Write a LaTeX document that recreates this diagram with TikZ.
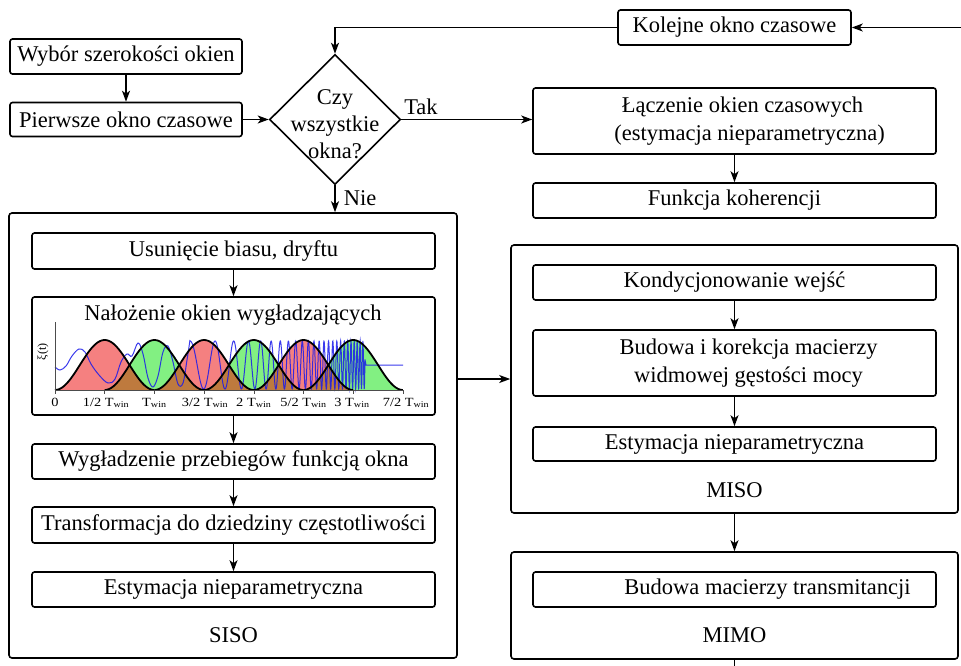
\documentclass[tikz,border=0pt]{standalone}
\usepackage{fontspec}
\setmainfont{Liberation Serif}
\newfontfamily\tickfont[FakeStretch=1.15]{Liberation Serif}
\usetikzlibrary{shapes.geometric,arrows.meta}
\definecolor{winred}{RGB}{245,128,128}
\definecolor{wingreen}{RGB}{130,240,130}
\definecolor{winbrown}{RGB}{190,122,62}
\definecolor{sigblue}{RGB}{25,25,235}
\tikzset{
  blk/.style={draw, line width=1.6pt, rounded corners=2.5pt, inner sep=0pt, align=center},
  grp/.style={draw, line width=1.6pt, rounded corners=3pt, inner sep=0pt},
  arr/.style={line width=1.5pt, -{Stealth[length=11pt,width=8pt,inset=3pt]}},
  lin/.style={line width=1.5pt},
  lbl/.style={inner sep=0pt},
  winline/.style={line width=1.8pt, black},
  sig/.style={line width=1pt, sigblue, opacity=0.85},
  ticklbl/.style={inner sep=0pt, anchor=base, font=\tickfont\fontsize{12.5}{12.5}\selectfont},
}
\begin{document}
\begin{tikzpicture}[x=1pt, y=-1pt, font=\fontsize{22.5}{28}\selectfont]
\useasboundingbox (0,0) rectangle (961,666);
\fill[white] (0,0) rectangle (961,666);

% top part
\node[blk, minimum width=233pt, minimum height=35pt] (kol) at (734.5,27.5) {Kolejne okno czasowe};
\node[blk, minimum width=232pt, minimum height=35pt] (wyb) at (126,56.5) {Wybór szerokości okien};
\node[blk, minimum width=232pt, minimum height=34pt] (pie) at (126,119.5) {Pierwsze okno czasowe};
\node[draw, diamond, line width=1.6pt, minimum width=131pt, minimum height=130pt, inner sep=0pt] (dec) at (335,119.5) {};
\node[lbl, align=center, font=\fontsize{22.5}{27}\selectfont] (dect) at (335,124) {Czy\\wszystkie\\okna?};
\node[blk, minimum width=403pt, minimum height=66pt] (lacz) at (734.5,121) {\hspace*{16pt}Łączenie okien czasowych\\\hspace*{30pt}(estymacja nieparametryczna)};
\node[blk, minimum width=403pt, minimum height=35pt] (fun) at (734.5,200.5) {Funkcja koherencji};
\node[lbl] (tak) at (421,107) {Tak};
\node[lbl] (nie) at (360,198) {Nie};

% SISO group
\node[grp, minimum width=448pt, minimum height=445pt] (siso) at (233,435.5) {};
\node[blk, minimum width=403pt, minimum height=36pt] (usu) at (233.5,251) {Usunięcie biasu, dryftu};
\node[blk, minimum width=403pt, minimum height=118pt] (nal) at (233.5,356) {};
\node[blk, minimum width=403pt, minimum height=35pt] (wyg) at (233.5,461.5) {Wygładzenie przebiegów funkcją okna};
\node[blk, minimum width=403pt, minimum height=36pt] (tra) at (233.5,525) {Transformacja do dziedziny częstotliwości};
\node[blk, minimum width=403pt, minimum height=35pt] (est1) at (233.5,589.5) {Estymacja nieparametryczna};
\node[lbl] (sisol) at (233.5,635) {SISO};

% MISO group
\node[grp, minimum width=447pt, minimum height=268pt] (miso) at (734.5,379) {};
\node[blk, minimum width=403pt, minimum height=35pt] (kon) at (734.5,282.5) {Kondycjonowanie wejść};
\node[blk, minimum width=403pt, minimum height=66pt] (bud) at (734.5,363) {\hspace*{28pt}Budowa i korekcja macierzy\\\hspace*{28pt}widmowej gęstości mocy};
\node[blk, minimum width=403pt, minimum height=34pt] (est2) at (734.5,444) {Estymacja nieparametryczna};
\node[lbl] (misol) at (734.5,490) {MISO};

% MIMO group
\node[grp, minimum width=447pt, minimum height=107pt] (mimo) at (734.5,605.5) {};
\node[blk, minimum width=403pt, minimum height=35pt] (tran) at (734.5,589.5) {\hspace*{66pt}Budowa macierzy transmitancji};
\node[lbl] (mimol) at (734.5,635) {MIMO};

\coordinate (rin) at (961,27.5);
\coordinate (mout) at (734.5,666);

% connectors
\draw[arr] (rin) -- (kol.east);
\draw[arr] (kol.west) -| (dec.north);
\draw[arr] (wyb.south) -- (pie.north);
\draw[arr] (pie.east) -- (dec.west);
\draw[arr] (dec.east) -- (dec.east -| lacz.west);
\draw[arr] (lacz.south) -- (fun.north);
\draw[arr] (dec.south) -- (dec.south |- siso.north);
\draw[arr] (usu.south) -- (nal.north);
\draw[arr] (nal.south) -- (wyg.north);
\draw[arr] (wyg.south) -- (tra.north);
\draw[arr] (tra.south) -- (est1.north);
\draw[arr] (siso.east |- miso.west) -- (miso.west);
\draw[arr] (kon.south) -- (bud.north);
\draw[arr] (bud.south) -- (est2.north);
\draw[arr] (miso.south) -- (mimo.north);
\draw[lin] (mimo.south) -- (mout);

% window plot
\node[lbl] (naltitle) at (233,315) {Nałożenie okien wygładzających};
\foreach \k/\wc in {0/winred,1/wingreen,2/winred,3/wingreen,4/winred,5/wingreen}{
  \pgfmathsetmacro\wa{55+49.7*\k}
  \pgfmathsetmacro\wb{\wa+99.4}
  \fill[\wc] plot[domain=\wa:\wb, samples=60] (\x,{390-50*sin((\x-\wa)*1.810865)*sin((\x-\wa)*1.810865)}) -- cycle;
}
\foreach \k in {0,...,4}{
  \pgfmathsetmacro\wa{55+49.7*\k}
  \pgfmathsetmacro\wb{\wa+49.7}
  \pgfmathsetmacro\wm{\wb+24.85}
  \pgfmathsetmacro\we{\wb+49.7}
  \fill[winbrown] (\wb,390) -- plot[domain=\wb:\wm, samples=25] (\x,{390-50*sin((\x-\wb)*1.810865)*sin((\x-\wb)*1.810865)}) -- plot[domain=\wm:\we, samples=25] (\x,{390-50*sin((\x-\wa)*1.810865)*sin((\x-\wa)*1.810865)}) -- cycle;
}
% signal
\draw[sig] plot[smooth, tension=0.6] coordinates {(55,367) (60,370) (66,366) (72,356) (79,349) (85,352) (91,364) (99,375) (108,383) (115,379) (121,362) (127,354) (132,356) (138,343) (143,354) (148,378) (153,387) (158,376) (163,352) (168,346) (173,362) (178,384) (183,383) (187,360) (190,340)};
\draw[sig] plot[domain=190:365, samples=900] (\x,{365-24*cos(865.6*(pow(2,(\x-190)/50)-1))}) -- (366,365) -- (403,365);
% window outlines
\foreach \k in {0,...,5}{
  \pgfmathsetmacro\wa{55+49.7*\k}
  \pgfmathsetmacro\wb{\wa+99.4}
  \draw[winline] plot[domain=\wa:\wb, samples=60] (\x,{390-50*sin((\x-\wa)*1.810865)*sin((\x-\wa)*1.810865)});
}
% axes
\draw[line width=0.6pt, black!70] (55,322) -- (55,390) -- (403,390);
\foreach \k in {0,...,7}{
  \draw[line width=0.6pt, black!70] ({55+49.7*\k},390) -- ({55+49.7*\k},394);
}
\node[lbl, rotate=90, font=\fontsize{12}{12}\selectfont] (xi) at (43,352) {ξ(t)};
\node[ticklbl] (t0) at (55,406) {0};
\node[ticklbl] (t1) at (106,406) {1/2 T\textsubscript{win}};
\node[ticklbl] (t2) at (154.4,406) {T\textsubscript{win}};
\node[ticklbl] (t3) at (205,406) {3/2 T\textsubscript{win}};
\node[ticklbl] (t4) at (253.8,406) {2 T\textsubscript{win}};
\node[ticklbl] (t5) at (303.5,406) {5/2 T\textsubscript{win}};
\node[ticklbl] (t6) at (352,406) {3 T\textsubscript{win}};
\node[ticklbl] (t7) at (406,406) {7/2 T\textsubscript{win}};
\end{tikzpicture}
\end{document}
